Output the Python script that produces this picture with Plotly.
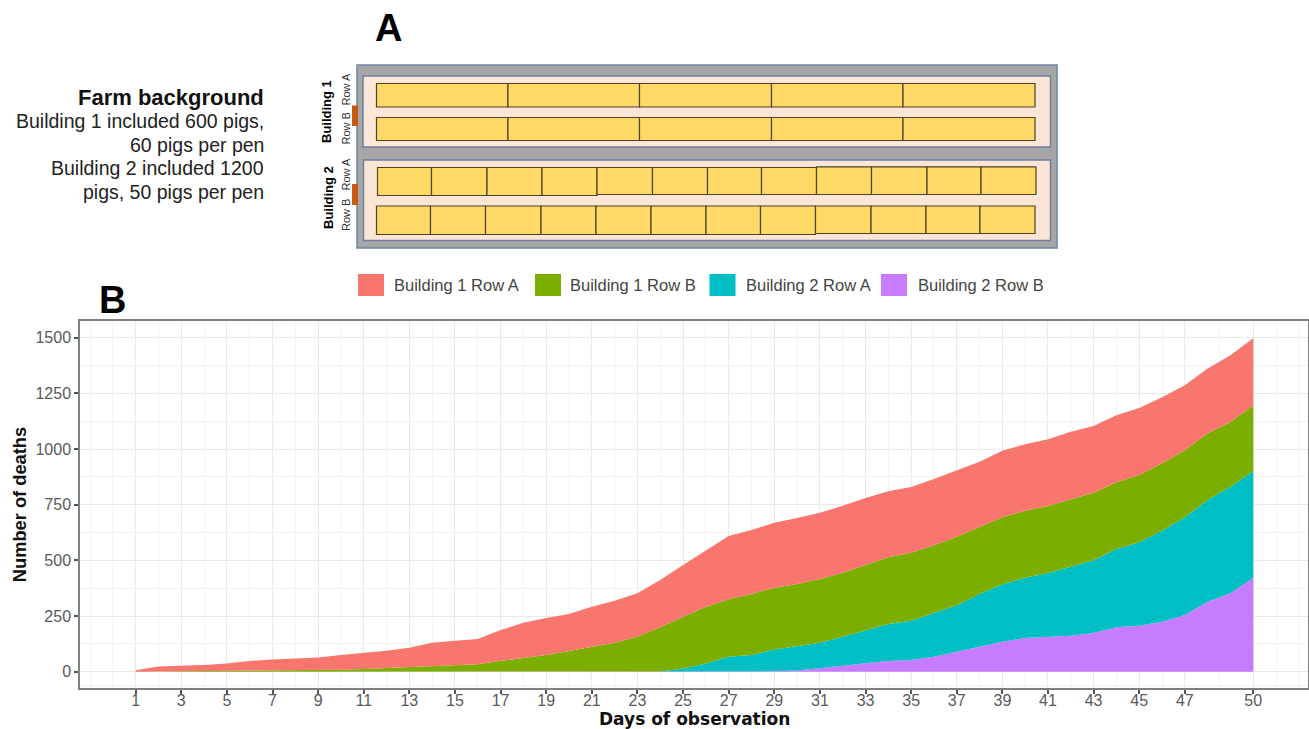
import plotly.graph_objects as go

W, H = 1309, 729
L, R, T, B = 80, 1308, 321, 688

days = list(range(1, 51))
building_2_row_b = [0]*28 + [2, 6, 15, 27, 38, 48, 53, 67, 90, 112, 135, 151, 156, 162, 174, 200, 207, 224, 255, 314, 353, 422]
building_2_row_a = [0]*23 + [1, 15, 37, 67, 75, 98, 110, 115, 130, 149, 166, 176, 196, 209, 237, 258, 271, 287, 309, 327, 351, 375, 409, 439, 457, 478, 479]
building_1_row_b = [0, 1, 1, 2, 2, 3, 3, 4, 6, 9, 12, 16, 21, 25, 30, 34, 49, 61, 75, 93, 112, 130, 157,
                    199, 232, 255, 259, 274, 277, 278, 286, 288, 292, 300, 305, 305, 307, 302, 301, 301, 301, 304, 303, 300, 301, 303, 301, 300, 291, 296]
building_1_row_a = [7, 23, 26, 28, 35, 45, 52, 56, 58, 66, 72, 78, 87, 105, 109, 113, 138, 159, 166, 166, 180, 189, 196,
                    212, 232, 254, 283, 287, 292, 296, 298, 300, 301, 297, 296, 297, 297, 292, 298, 299, 300, 303, 299, 301, 301, 297, 292, 291, 299, 300]

x_ticks = list(range(1, 48, 2)) + [50]
x_minor = [-1] + list(range(0, 47, 2)) + [48.5, 51, 52]
y_ticks = [0, 250, 500, 750, 1000, 1250, 1500]
y_minor = [-62.5, 125, 375, 625, 875, 1125, 1375]

series_names = ["Building 1 Row A", "Building 1 Row B", "Building 2 Row A", "Building 2 Row B"]
series_colors = ["#F8766D", "#7CAE00", "#00BFC4", "#C77CFF"]

farm_lines = ["Building 1 included 600 pigs,", "60 pigs per pen", "Building 2 included 1200", "pigs, 50 pigs per pen"]


def px(v):
    return (v - L) / (R - L)


def py(v):
    return (B - v) / (B - T)


shapes = []
annotations = []


def rect(x0, y0, x1, y1, fill, line=None, width=1.2):
    shapes.append(dict(type="rect", xref="paper", yref="paper", x0=px(x0), x1=px(x1), y0=py(y1), y1=py(y0),
                       fillcolor=fill, line=dict(color=line or fill, width=width if line else 0), layer="above"))


def text(x, y, s, size, color="#000000", anchor="center", bold=False, angle=0, family="Liberation Sans"):
    annotations.append(dict(xref="paper", yref="paper", x=px(x), y=py(y), text=f"<b>{s}</b>" if bold else s,
                            showarrow=False, xanchor=anchor, yanchor="middle", textangle=angle,
                            font=dict(size=size, color=color, family=family)))


# Panel A: farm layout
rect(357, 65, 1057, 248, "#A6A6A6", "#6E86A6", 1.5)
rect(363, 76, 1050.5, 147, "#FBE5D6", "#6F7FA0", 1.5)
rect(363.5, 160, 1050.5, 240.5, "#FBE5D6", "#6F7FA0", 1.5)
cell_fill, cell_line = "#FFD966", "#4F4326"

b1_edges = [376.5, 508, 639.5, 771.5, 903, 1035]
for a, b in zip(b1_edges[:-1], b1_edges[1:]):
    rect(a, 83.5, b, 107, cell_fill, cell_line)
    rect(a, 117.5, b, 140.5, cell_fill, cell_line)

b2a_edges = [377.5, 431.5, 487, 542, 597, 652.5, 707.5, 761.5, 816.5, 871.5, 927, 981, 1036]
for i, (a, b) in enumerate(zip(b2a_edges[:-1], b2a_edges[1:])):
    top, bottom = (167.5, 195.5) if i < 4 else ((167.5, 194.5) if i < 8 else (166.8, 194.5))
    rect(a, top, b, bottom, cell_fill, cell_line)

b2b_edges = [376.5, 430.5, 485.5, 541, 596, 651, 706, 760.5, 815.5, 871, 926, 980, 1035]
for i, (a, b) in enumerate(zip(b2b_edges[:-1], b2b_edges[1:])):
    rect(a, 206, b, 234.5 if i < 8 else 233.5, cell_fill, cell_line)

rect(352, 105.5, 358, 126, "#C55A11")
rect(352, 184, 358, 205, "#C55A11")

text(327, 112, "Building 1", 13, bold=True, angle=-90)
text(345.5, 90, "Row A", 11, "#333333", angle=-90)
text(345.5, 129, "Row B", 11, "#333333", angle=-90)
text(328, 198, "Building 2", 13, bold=True, angle=-90)
text(345.5, 175, "Row A", 11, "#333333", angle=-90)
text(346, 215, "Row B", 11, "#333333", angle=-90)

text(388, 28, "A", 38, bold=True)
text(112, 300, "B", 38, bold=True)

text(266, 97, "Farm background", 22, "#111111", "right", bold=True)
for yy, line in zip([121, 145, 168, 192], farm_lines):
    text(266, yy, line, 19.5, "#222222", "right")

# Legend
for sx, lx, name, col in zip([358, 535, 709.5, 881], [392, 568, 744, 916], series_names, series_colors):
    rect(sx, 274, sx + 26, 296, col)
    text(lx, 285, name, 16.5, "#444444", "left")

# X axis title (placed by hand: an axis title is constrained by the margin)
text(694.5, 718.5, "Days of observation", 17, "#111111", bold=True, family="DejaVu Sans")

fig = go.Figure()
for name, vals, col in [(series_names[3], building_2_row_b, series_colors[3]),
                        (series_names[2], building_2_row_a, series_colors[2]),
                        (series_names[1], building_1_row_b, series_colors[1]),
                        (series_names[0], building_1_row_a, series_colors[0])]:
    fig.add_trace(go.Scatter(x=days, y=vals, name=name, mode="lines", stackgroup="one",
                             line=dict(width=0, color=col), fillcolor=col, showlegend=False))

tickfont = dict(size=16, color="#595959", family="Liberation Sans")
fig.update_layout(
    width=W, height=H, autosize=False,
    margin=dict(l=L, r=W - R, t=T, b=H - B),
    paper_bgcolor="white", plot_bgcolor="white",
    showlegend=False,
    shapes=shapes, annotations=annotations,
    xaxis=dict(range=[-1.44, 52.4], automargin=False, tickmode="array", tickvals=x_ticks,
               ticktext=[str(v) for v in x_ticks], ticks="outside", ticklen=4, tickwidth=1.5, tickcolor="#555555",
               ticklabelstandoff=-7,
               tickfont=tickfont, showline=True, mirror=True, linecolor="#7F7F7F", linewidth=1.5,
               showgrid=True, gridcolor="#E9E9E9", gridwidth=1.3, zeroline=False,
               minor=dict(tickmode="array", tickvals=x_minor, showgrid=True, gridcolor="#F3F3F3", gridwidth=1, ticks="")),
    yaxis=dict(range=[-73, 1575], automargin=False, tickmode="array", tickvals=y_ticks,
               ticktext=[str(v) for v in y_ticks], ticks="outside", ticklen=4, tickwidth=1.5, tickcolor="#555555",
               tickfont=tickfont, showline=True, mirror=True, linecolor="#7F7F7F", linewidth=1.5,
               showgrid=True, gridcolor="#E9E9E9", gridwidth=1.3, zeroline=False,
               minor=dict(tickmode="array", tickvals=y_minor, showgrid=True, gridcolor="#F3F3F3", gridwidth=1, ticks=""),
               title=dict(text="<b>Number of deaths</b>", standoff=4,
                          font=dict(size=18.3, color="#111111", family="Liberation Sans"))),
)

fig.write_html("out.html", config={"displayModeBar": False},
               post_script="document.body.style.margin='0';document.body.style.overflow='hidden';")
